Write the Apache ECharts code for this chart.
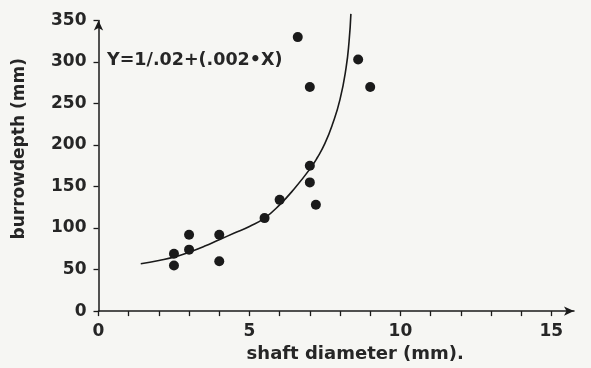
<!DOCTYPE html>
<html>
<head>
<meta charset="utf-8">
<script src="https://cdn.jsdelivr.net/npm/echarts@6/dist/echarts.min.js"></script>
<style>
  html, body { margin: 0; padding: 0; background: #f6f6f3; }
  #chart { width: 591px; height: 368px; }
</style>
</head>
<body>
<div id="chart"></div>
<script>
// Measured burrows: shaft diameter (mm) and burrow depth (mm)
const shaftDiameter = [2.5, 2.5, 3.0, 3.0, 4.0, 4.0, 5.5, 6.0, 7.0, 7.0, 7.2, 6.6, 7.0, 8.6, 9.0];
const burrowDepth   = [69,  55,  92,  74,  92,  60,  112, 134, 175, 155, 128, 330, 270, 303, 270];

// Fitted curve, traced along its drawn course
const curveX = [1.4, 2.0, 2.5, 3.0, 3.5, 4.0, 4.5, 5.0, 5.5, 6.0, 6.5, 7.0, 7.25, 7.5, 7.75, 8.0, 8.2, 8.3, 8.36];
const curveY = [57,  61,  65,  71,  78,  86,  94,  102, 112, 128, 148, 171, 185,  202, 225,  255, 293, 325, 358];

// Axis labels
const xTickLabels = [0, 5, 10, 15];
const xMinorTicks = [0, 1, 2, 3, 4, 5, 6, 7, 8, 9, 10, 11, 12, 13, 14, 15];
const equationText = 'Y=1/.02+(.002\u2022X)';

const ink = '#1a1a1a';
const textInk = '#262626';
const font = 'DejaVu Sans';

const points = shaftDiameter.map((x, i) => [x, burrowDepth[i]]);
const curve = curveX.map((x, i) => [x, curveY[i]]);

const chart = echarts.init(document.getElementById('chart'), null, { renderer: 'canvas' });

chart.setOption({
  backgroundColor: '#f6f6f3',
  animation: false,
  grid: { left: 98.5, right: 17, top: 20.5, bottom: 54, containLabel: false },
  xAxis: {
    type: 'value',
    min: 0,
    max: 15.75,
    name: 'shaft diameter (mm).',
    nameLocation: 'middle',
    nameGap: 30,
    nameTextStyle: { color: textInk, fontFamily: font, fontSize: 18, fontWeight: 'bold', padding: [0, 0, 0, 38] },
    splitLine: { show: false },
    axisLine: {
      show: true,
      lineStyle: { color: ink, width: 1.5 },
      symbol: ['none', 'arrow'],
      symbolSize: [7, 10]
    },
    axisTick: {
      show: true,
      inside: false,
      length: 5,
      customValues: xMinorTicks,
      lineStyle: { color: ink, width: 1.3 }
    },
    axisLabel: {
      customValues: xTickLabels,
      color: textInk,
      fontFamily: font,
      fontSize: 17,
      fontWeight: 'bold',
      margin: 12
    }
  },
  yAxis: {
    type: 'value',
    min: 0,
    max: 350,
    interval: 50,
    name: 'burrowdepth (mm)',
    nameLocation: 'middle',
    nameGap: 70,
    nameRotate: 90,
    nameTextStyle: { color: textInk, fontFamily: font, fontSize: 17, fontWeight: 'bold', padding: [0, 0, 0, 34] },
    splitLine: { show: false },
    axisLine: {
      show: true,
      lineStyle: { color: ink, width: 1.5 },
      symbol: ['none', 'arrow'],
      symbolSize: [7, 10]
    },
    axisTick: { show: true, length: 5, lineStyle: { color: ink, width: 1.3 } },
    axisLabel: { color: textInk, fontFamily: font, fontSize: 17, fontWeight: 'bold', margin: 12 }
  },
  series: [
    {
      type: 'line',
      data: curve,
      smooth: 0.5,
      showSymbol: false,
      clip: false,
      lineStyle: { color: ink, width: 1.6 },
      z: 2
    },
    {
      type: 'scatter',
      data: points,
      symbol: 'circle',
      symbolSize: 10,
      itemStyle: { color: ink, opacity: 1 },
      z: 3
    }
  ],
  graphic: [
    {
      type: 'text',
      left: 107,
      top: 51,
      style: { text: equationText, fill: textInk, font: 'bold 17.5px "DejaVu Sans"' }
    }
  ]
});
</script>
</body>
</html>
